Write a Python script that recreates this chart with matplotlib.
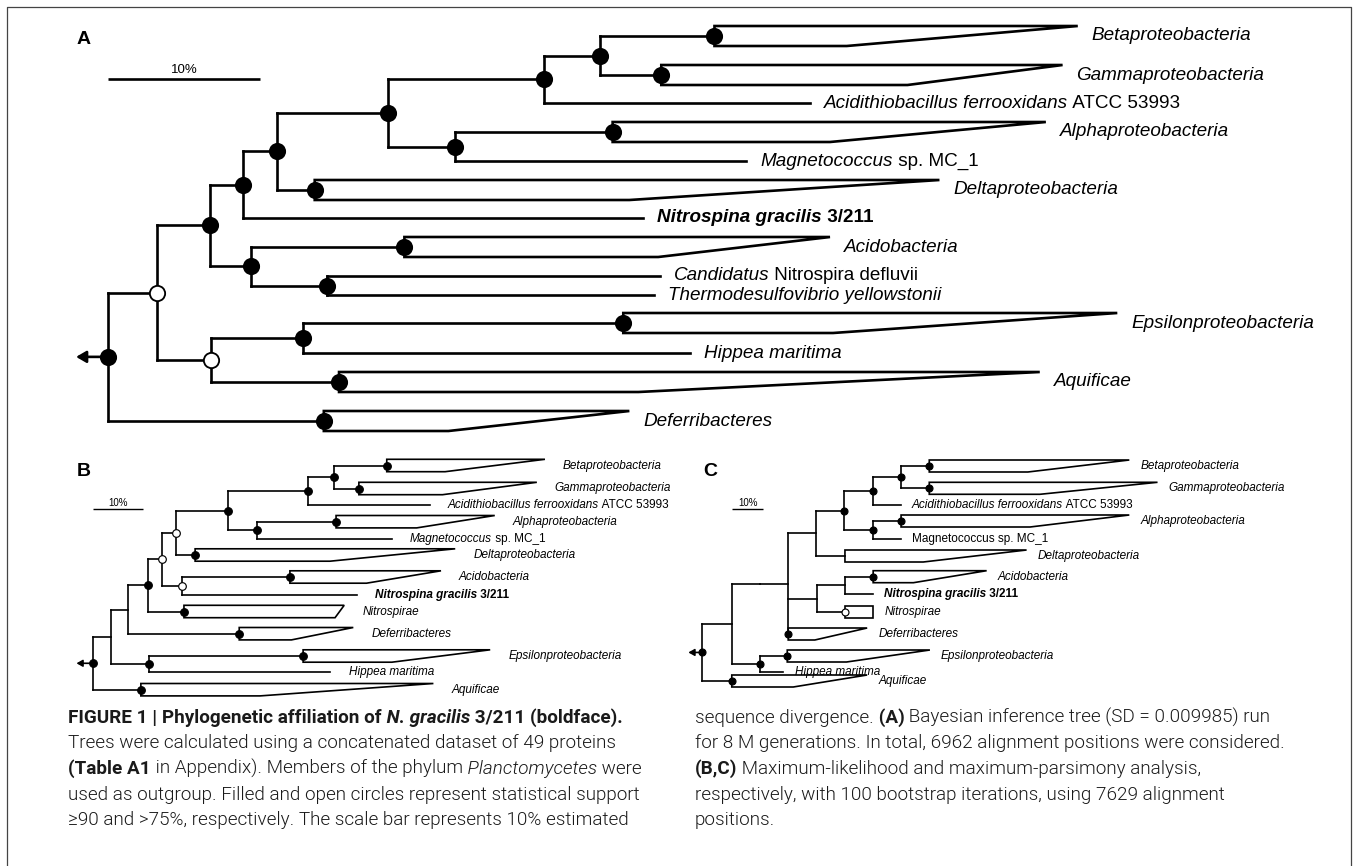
import matplotlib
matplotlib.use("Agg")
import matplotlib.pyplot as plt
from matplotlib import font_manager
from matplotlib.patches import Polygon

W, H = 1354, 866

# ---------------------------------------------------------------------------
# tree data: depth in % sequence divergence from the root, rows = leaf layout
# ---------------------------------------------------------------------------

# panel A - Bayesian inference
a_nodes = ["root", "n10", "n7", "n6", "n5", "n3", "n2", "n1", "n4", "n8", "n9", "n11", "n12"]
a_parent = [None, "root", "n10", "n7", "n6", "n5", "n3", "n2", "n3", "n7", "n8", "n10", "n11"]
a_depth = [0.0, 3.2, 6.7, 8.9, 11.1, 18.4, 28.7, 32.4, 22.8, 9.4, 14.4, 6.8, 12.8]
a_support = ["f", "o", "f", "f", "f", "f", "f", "f", "f", "f", "f", "o", "f"]

a_tips = ["beta", "gamma", "acidithio", "alpha", "magneto", "delta", "nitrospina",
          "acido", "candidatus", "thermo", "epsilon", "hippea", "aquificae", "deferri"]
a_tip_parent = ["n1", "n1", "n2", "n4", "n4", "n5", "n6", "n8", "n9", "n9", "n12", "n12", "n11", "root"]
a_tip_row = [36, 75, 103, 132, 161, 190, 218, 247, 276, 295, 323, 353, 382, 421]
a_clade_depth = [39.9, 36.4, None, 33.2, None, 13.6, None, 19.5, None, None, 33.9, None, 15.2, 14.2]
a_tip_depth = [63.8, 62.8, 46.2, 61.7, 42.0, 54.7, 35.2, 47.5, 36.3, 35.9, 66.4, 38.3, 61.3, 34.3]
a_base_depth = [48.6, 52.6, None, 47.5, None, 34.3, None, 36.2, None, None, 47.7, None, 34.9, 22.4]
a_clade_support = ["f", "f", None, "f", None, "f", None, "f", None, None, "f", None, "f", "f"]

# panel B - maximum likelihood
b_nodes = ["root", "b1", "b2", "b3", "b4", "b6", "b7", "b8", "b9", "b10", "b5", "be"]
b_parent = [None, "root", "b1", "b2", "b3", "b4", "b6", "b7", "b8", "b7", "b4", "b1"]
b_depth = [0.0, 3.55, 7.0, 11.0, 13.7, 16.4, 26.7, 42.5, 47.5, 32.5, 17.7, 11.2]
b_support = ["f", None, None, "f", "o", "o", "f", "f", "f", "f", "o", "f"]

b_tips = ["beta", "gamma", "acidithio", "alpha", "magneto", "delta", "acido",
          "nitrospina", "nitrospirae", "deferri", "epsilon", "hippea", "aquificae"]
b_tip_parent = ["b9", "b9", "b8", "b10", "b10", "b6", "b5", "b5", "b3", "b2", "be", "be", "root"]
b_tip_row = [465.5, 488.5, 505, 521.7, 539, 555, 577, 595, 611.5, 633.7, 656, 672.3, 689.7]
b_clade_depth = [58.0, 52.5, None, 48.0, None, 20.2, 38.9, None, 18.0, 28.9, 41.5, None, 9.5]
b_tip_depth = [89.2, 87.6, 66.5, 79.3, 59.0, 71.5, 68.7, 52.1, 49.6, 51.4, 78.4, 46.9, 67.2]
b_base_depth = [69.5, 69.0, None, 63.9, None, 46.8, 54.0, None, 47.8, 39.2, 59.0, None, 33.0]
b_clade_support = ["f", "f", None, "f", None, "f", "f", None, "f", "f", "f", None, "f"]

# panel C - maximum parsimony
c_nodes = ["root", "c1", "c2", "c3", "c4", "c7", "c8", "c10", "c9", "c5", "c6", "ce"]
c_parent = [None, "root", "c1", "c2", "c3", "c4", "c7", "c8", "c7", "c3", "c5", "c1"]
c_depth = [0.0, 9.3, 18.2, 27.1, 35.9, 44.8, 53.9, 62.7, 53.9, 36.1, 45.0, 18.2]
c_support = ["f", None, None, None, None, "f", "f", "f", "f", None, None, "f"]

c_tips = ["beta", "gamma", "acidithio", "alpha", "magneto", "delta", "acido",
          "nitrospina", "nitrospirae", "deferri", "epsilon", "hippea", "aquificae"]
c_tip_parent = ["c10", "c10", "c8", "c9", "c9", "c4", "c6", "c6", "c5", "c3", "ce", "ce", "root"]
c_tip_row = [466, 488.3, 505, 521, 539, 556, 576.7, 594, 611.7, 634, 656, 672.3, 681]
c_clade_depth = [71.6, 71.6, None, 62.7, None, 45.0, 53.9, None, 45.0, 27.1, 26.8, None, 9.3]
c_tip_depth = [134.7, 143.6, 62.6, 134.7, 62.6, 102.3, 89.7, 53.9, 53.9, 52.0, 71.8, 25.6, 52.0]
c_base_depth = [102.7, 106.5, None, 103.4, None, 69.7, 66.6, None, 53.9, 35.5, 45.5, None, 28.7]
c_clade_support = ["f", "f", None, "f", None, None, "f", None, "o", "f", "f", None, "f"]

# tip labels as (text, style) pieces
labels = {
    "beta": [("Betaproteobacteria", "i")],
    "gamma": [("Gammaproteobacteria", "i")],
    "acidithio": [("Acidithiobacillus ferrooxidans", "i"), (" ATCC 53993", "n")],
    "alpha": [("Alphaproteobacteria", "i")],
    "magneto": [("Magnetococcus", "i"), (" sp. MC_1", "n")],
    "delta": [("Deltaproteobacteria", "i")],
    "nitrospina": [("Nitrospina gracilis", "bi"), (" 3/211", "b")],
    "acido": [("Acidobacteria", "i")],
    "candidatus": [("Candidatus", "i"), (" Nitrospira defluvii", "n")],
    "thermo": [("Thermodesulfovibrio yellowstonii", "i")],
    "epsilon": [("Epsilonproteobacteria", "i")],
    "hippea": [("Hippea maritima", "i")],
    "aquificae": [("Aquificae", "i")],
    "deferri": [("Deferribacteres", "i")],
    "nitrospirae": [("Nitrospirae", "i")],
}
labels_c = dict(labels, magneto=[("Magnetococcus sp. MC_1", "n")])

caption_left = [
    [("FIGURE 1 | Phylogenetic affiliation of", "b"), (" N. gracilis", "bi"), (" 3/211 (boldface).", "b")],
    [("Trees were calculated using a concatenated dataset of 49 proteins", "n")],
    [("(Table A1", "b"), (" in Appendix). Members of the phylum", "n"), (" Planctomycetes", "i"), (" were", "n")],
    [("used as outgroup. Filled and open circles represent statistical support", "n")],
    [("\u226590 and >75%, respectively. The scale bar represents 10% estimated", "n")],
]
caption_right = [
    [("sequence divergence.", "n"), (" (A)", "b"), (" Bayesian inference tree (SD = 0.009985) run", "n")],
    [("for 8 M generations. In total, 6962 alignment positions were considered.", "n")],
    [("(B,C)", "b"), (" Maximum-likelihood and maximum-parsimony analysis,", "n")],
    [("respectively, with 100 bootstrap iterations, using 7629 alignment", "n")],
    [("positions.", "n")],
]

# ---------------------------------------------------------------------------

names = {f.name for f in font_manager.fontManager.ttflist}
TREE_FONT = ["Liberation Sans", "DejaVu Sans"] if "Liberation Sans" in names else ["DejaVu Sans"]
CAP_FONT = ["Roboto", "DejaVu Sans"] if "Roboto" in names else TREE_FONT
CAP_LIGHT = 300 if "Roboto" in names else "normal"

STYLE = {"n": dict(style="normal", weight="normal"),
         "i": dict(style="italic", weight="normal"),
         "b": dict(style="normal", weight="bold"),
         "bi": dict(style="italic", weight="bold")}


def rich(ax, x, y, parts, size, family, dx=0, color="black", va="center", light=None):
    def kw(st):
        d = dict(STYLE[st])
        if light is not None and d["weight"] == "normal":
            d["weight"] = light
        return d

    first = ax.annotate(parts[0][0], xy=(x, y), xytext=(dx, 0), textcoords="offset points",
                        ha="left", va=va, fontsize=size, family=family, color=color,
                        **kw(parts[0][1]))
    prev = first
    for txt, st in parts[1:]:
        prev = ax.annotate(txt, xy=(1, 0), xycoords=prev, ha="left", va="bottom",
                           fontsize=size, family=family, color=color, **kw(st))
    return first


def draw_tree(ax, nodes, parent, depth, support, tips, tip_parent, tip_row,
              clade_depth, tip_depth, base_depth, clade_support, lab,
              half, lw, ms, fsize, gap, arrow_to, arrow_head):
    kids = {n: [] for n in nodes}
    for t, p in zip(tips, tip_parent):
        kids[p].append(("tip", t))
    for n, p in zip(nodes, parent):
        if p is not None:
            kids[p].append(("node", n))
    ndepth = dict(zip(nodes, depth))
    tip_y = dict(zip(tips, tip_row))
    ny = {}

    def node_y(n):
        if n not in ny:
            ys = [tip_y[c] if k == "tip" else node_y(c) for k, c in kids[n]]
            ny[n] = (min(ys) + max(ys)) / 2
        return ny[n]

    line = dict(color="black", lw=lw, solid_capstyle="projecting", zorder=2)
    for n in nodes:
        ys = [tip_y[c] if k == "tip" else node_y(c) for k, c in kids[n]]
        ax.plot([ndepth[n], ndepth[n]], [min(ys), max(ys)], **line)
    for n, p in zip(nodes, parent):
        if p is not None:
            ax.plot([ndepth[p], ndepth[n]], [node_y(n), node_y(n)], **line)

    dots = []
    for i, t in enumerate(tips):
        y = tip_row[i]
        x0 = ndepth[tip_parent[i]]
        if clade_depth[i] is None:
            ax.plot([x0, tip_depth[i]], [y, y], **line)
        else:
            xc = clade_depth[i]
            ax.plot([x0, xc], [y, y], **line)
            ax.add_patch(Polygon([(xc, y - half), (tip_depth[i], y - half),
                                  (base_depth[i], y + half), (xc, y + half)],
                                 closed=True, fill=False, lw=lw, ec="black",
                                 joinstyle="miter", zorder=2))
            if clade_support[i]:
                dots.append((xc, y, clade_support[i]))
        rich(ax, tip_depth[i], y, lab[t], fsize, TREE_FONT, dx=gap)

    for n, s in zip(nodes, support):
        if s:
            dots.append((ndepth[n], node_y(n), s))
    for x, y, s in dots:
        ax.plot(x, y, "o", ms=ms, mfc="black" if s == "f" else "white",
                mec="black", mew=lw * 0.7, zorder=4)

    ry = node_y(nodes[0])
    ax.annotate("", xy=(arrow_to, ry), xytext=(0, ry),
                arrowprops=dict(arrowstyle="-|>,head_length=%.2f,head_width=%.2f" % arrow_head,
                                lw=lw, color="black", shrinkA=0, shrinkB=0), zorder=3)


def panel_axes(root_px, px_per_pct):
    ax = fig.add_axes([0, 0, 1, 1])
    ax.set_xlim(-root_px / px_per_pct, (W - root_px) / px_per_pct)
    ax.set_ylim(H, 0)
    ax.set_facecolor("none")
    ax.axis("off")
    return ax


fig = plt.figure(figsize=(W / 100, H / 100), dpi=100)

# frame and caption on a pixel grid
frame = fig.add_axes([0, 0, 1, 1])
frame.set_xlim(0, W)
frame.set_ylim(H, 0)
frame.axis("off")
frame.plot([7, 7, 1351, 1351], [H, 7, 7, H], color="#444444", lw=0.9)

# ---- panel A
axA = panel_axes(108, 15.2)
draw_tree(axA, a_nodes, a_parent, a_depth, a_support, a_tips, a_tip_parent, a_tip_row,
          a_clade_depth, a_tip_depth, a_base_depth, a_clade_support, labels,
          half=10, lw=1.9, ms=11, fsize=13.6, gap=10, arrow_to=-2.1, arrow_head=(0.6, 0.35))
axA.plot([0, 10], [79, 79], color="black", lw=1.9, solid_capstyle="butt")
axA.text(5, 76, "10%", ha="center", va="bottom", fontsize=9.5, family=TREE_FONT)
axA.text(-2.1, 40, "A", ha="left", va="center", fontsize=14, weight="bold", family=TREE_FONT)

# ---- panel B
axB = panel_axes(92.7, 5.07)
draw_tree(axB, b_nodes, b_parent, b_depth, b_support, b_tips, b_tip_parent, b_tip_row,
          b_clade_depth, b_tip_depth, b_base_depth, b_clade_support, labels,
          half=6.2, lw=1.2, ms=5.5, fsize=8.5, gap=13, arrow_to=-3.2, arrow_head=(0.35, 0.2))
axB.plot([0, 10], [509, 509], color="black", lw=1.0, solid_capstyle="butt")
axB.text(5, 508, "10%", ha="center", va="bottom", fontsize=7, family=TREE_FONT)
axB.text(-3.2, 472, "B", ha="left", va="center", fontsize=14, weight="bold", family=TREE_FONT)

# ---- panel C
axC = panel_axes(702.3, 3.17)
draw_tree(axC, c_nodes, c_parent, c_depth, c_support, c_tips, c_tip_parent, c_tip_row,
          c_clade_depth, c_tip_depth, c_base_depth, c_clade_support, labels_c,
          half=6.0, lw=1.2, ms=5.0, fsize=8.5, gap=8, arrow_to=-4.4, arrow_head=(0.35, 0.2))
axC.plot([9.3, 19.3], [509, 509], color="black", lw=1.0, solid_capstyle="butt")
axC.text(14.3, 508, "10%", ha="center", va="bottom", fontsize=7, family=TREE_FONT)
axC.text(0.2, 472, "C", ha="left", va="center", fontsize=14, weight="bold", family=TREE_FONT)

# ---- caption
for i, parts in enumerate(caption_left):
    rich(frame, 68, 718 + 25.5 * i, parts, 13.6, CAP_FONT, color="#1a1a1a", light=CAP_LIGHT)
for i, parts in enumerate(caption_right):
    rich(frame, 695, 718 + 25.5 * i, parts, 13.6, CAP_FONT, color="#1a1a1a", light=CAP_LIGHT)

fig.savefig("out.png", dpi=100)
